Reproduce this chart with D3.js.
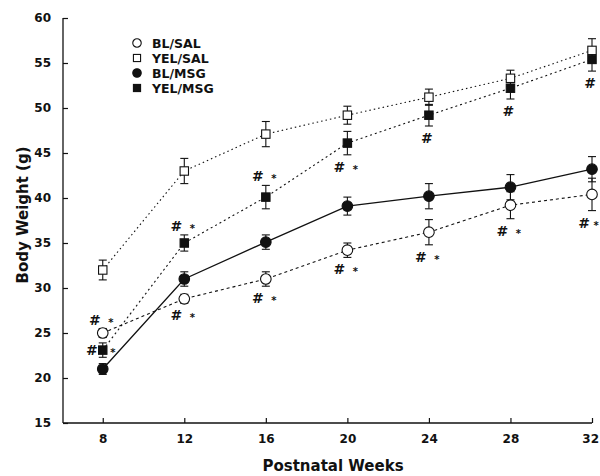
<!DOCTYPE html>
<html>
<head>
<meta charset="utf-8">
<script src="https://cdn.jsdelivr.net/npm/d3@7"></script>
<style>
  body { margin: 0; background: #fff; }
  svg text { font-family: "DejaVu Sans", sans-serif; font-weight: bold; fill: #111; }
</style>
</head>
<body>
<div id="chart"></div>
<script>
const weeks = [8, 12, 16, 20, 24, 28, 32];
const yTicks = [15, 20, 25, 30, 35, 40, 45, 50, 55, 60];

const blSal = [25.0, 28.8, 31.0, 34.2, 36.2, 39.2, 40.4];
const blSalErr = [0.5, 0.5, 0.8, 0.8, 1.4, 1.5, 1.8];
const yelSal = [32.0, 43.0, 47.1, 49.2, 51.2, 53.3, 56.4];
const yelSalErr = [1.1, 1.4, 1.4, 1.0, 0.9, 0.9, 1.3];
const blMsg = [21.0, 31.0, 35.1, 39.1, 40.2, 41.2, 43.2];
const blMsgErr = [0.6, 0.8, 0.8, 1.0, 1.4, 1.4, 1.4];
const yelMsg = [23.1, 35.0, 40.1, 46.1, 49.2, 52.2, 55.4];
const yelMsgErr = [0.8, 0.9, 1.3, 1.3, 1.2, 1.2, 1.3];

// significance marks: series, week, symbols, placement
const marks = [
  ["BL/SAL", 8, "#*", "above"], ["YEL/MSG", 8, "#*", "side"],
  ["YEL/MSG", 12, "#*", "above"], ["BL/SAL", 12, "#*", "below"],
  ["YEL/MSG", 16, "#*", "above"], ["BL/SAL", 16, "#*", "below"],
  ["YEL/MSG", 20, "#*", "below"], ["BL/SAL", 20, "#*", "below"],
  ["YEL/MSG", 24, "#", "below"], ["BL/SAL", 24, "#*", "below"],
  ["YEL/MSG", 28, "#", "below"], ["BL/SAL", 28, "#*", "below"],
  ["YEL/MSG", 32, "#", "below"], ["BL/SAL", 32, "#*", "below"]
];

const series = [
  { name: "BL/SAL", values: blSal, errs: blSalErr, shape: "circle", filled: false, dash: "3,3" },
  { name: "YEL/SAL", values: yelSal, errs: yelSalErr, shape: "square", filled: false, dash: "1.5,3" },
  { name: "BL/MSG", values: blMsg, errs: blMsgErr, shape: "circle", filled: true, dash: null },
  { name: "YEL/MSG", values: yelMsg, errs: yelMsgErr, shape: "square", filled: true, dash: "2,3" }
];

const width = 600, height = 476;
const margin = { left: 63, right: 8, top: 18, bottom: 53 };

const svg = d3.select("#chart").append("svg")
  .attr("width", width).attr("height", height);

const x = d3.scaleLinear().domain([6.05, 32]).range([margin.left, width - margin.right]);
const y = d3.scaleLinear().domain([15, 60]).range([height - margin.bottom, margin.top]);

// axes
const xAxis = d3.axisBottom(x).tickValues(weeks).tickSizeInner(-5).tickSizeOuter(0).tickPadding(11);
const yAxis = d3.axisLeft(y).tickValues(yTicks).tickSizeInner(-5).tickSizeOuter(0).tickPadding(12);

const gx = svg.append("g").attr("transform", `translate(0,${y(15)})`).call(xAxis);
const gy = svg.append("g").attr("transform", `translate(${margin.left},0)`).call(yAxis);
[gx, gy].forEach(g => {
  g.select(".domain").attr("stroke", "#111").attr("stroke-width", 1.3);
  g.selectAll(".tick line").attr("stroke", "#111").attr("stroke-width", 1.2);
  g.selectAll(".tick text").attr("font-size", 12).attr("font-family", "DejaVu Sans, sans-serif")
    .attr("font-weight", "bold").attr("fill", "#111");
});
// keep the last label inside the page
gx.selectAll(".tick text").filter(d => d === 32).attr("dx", -1.8);
gx.select(".domain").attr("d", `M${margin.left},0H${x(32)}`);
gy.select(".domain").attr("d", `M0,${y(15)}V${y(60)}`);

svg.append("text").attr("x", 333).attr("y", 471).attr("text-anchor", "middle")
  .attr("font-size", 15).text("Postnatal Weeks");
svg.append("text").attr("transform", `translate(28,215) rotate(-90)`)
  .attr("text-anchor", "middle").attr("font-size", 15).text("Body Weight (g)");

// lines
const line = d3.line().x((d, i) => x(weeks[i])).y(d => y(d));
series.forEach(s => {
  svg.append("path").datum(s.values).attr("d", line)
    .attr("fill", "none").attr("stroke", "#111")
    .attr("stroke-width", s.dash ? 1.1 : 1.3)
    .attr("stroke-dasharray", s.dash);
});

// error bars
series.forEach(s => {
  const g = svg.append("g").attr("stroke", "#111").attr("stroke-width", 1.1);
  s.values.forEach((v, i) => {
    const cx = x(weeks[i]), e = s.errs[i];
    g.append("line").attr("x1", cx).attr("x2", cx).attr("y1", y(v + e)).attr("y2", y(v - e));
    [v + e, v - e].forEach(t => g.append("line")
      .attr("x1", cx - 4).attr("x2", cx + 4).attr("y1", y(t)).attr("y2", y(t)));
  });
});

function drawSymbol(g, s, cx, cy, scale) {
  const fill = s.filled ? "#111" : "#fff";
  if (s.shape === "circle") {
    g.append("circle").attr("cx", cx).attr("cy", cy).attr("r", 5.3 * scale)
      .attr("fill", fill).attr("stroke", "#111").attr("stroke-width", 1.1);
  } else {
    const h = 4.2 * scale;
    g.append("rect").attr("x", cx - h).attr("y", cy - h).attr("width", 2 * h).attr("height", 2 * h)
      .attr("fill", fill).attr("stroke", "#111").attr("stroke-width", 1.1);
  }
}

series.forEach(s => {
  const g = svg.append("g");
  s.values.forEach((v, i) => drawSymbol(g, s, x(weeks[i]), y(v), 1));
});

// significance marks
const byName = Object.fromEntries(series.map(s => [s.name, s]));
marks.forEach(([name, wk, sym, place]) => {
  const s = byName[name];
  const i = weeks.indexOf(wk);
  const cx = x(wk), v = s.values[i], e = s.errs[i];
  let cy; // vertical centre of the marks
  if (place === "above") cy = y(v + e) - 9;
  else if (place === "below") cy = y(v - e) + 12;
  else cy = y(v);
  const both = sym.length > 1;
  const hx = place === "side" ? cx - 11 : (both ? cx - 8 : cx - 2);
  const sx = Math.min(place === "side" ? cx + 10 : cx + 8, width - 4);
  svg.append("text").attr("x", hx).attr("y", cy + 5).attr("text-anchor", "middle")
    .attr("font-size", 14).attr("font-family", "DejaVu Sans, sans-serif").text("#");
  if (both) svg.append("text").attr("x", sx).attr("y", cy + 6).attr("text-anchor", "middle")
    .attr("font-size", 10).text("*");
});

// legend
const legend = svg.append("g").attr("transform", "translate(137,43)");
series.forEach((s, i) => {
  const row = legend.append("g").attr("transform", `translate(0,${i * 15})`);
  drawSymbol(row, s, 0, 0, s.shape === "circle" ? 0.8 : 0.85);
  row.append("text").attr("x", 15).attr("y", 4.5).attr("font-size", 12.5).text(s.name);
});
</script>
</body>
</html>
